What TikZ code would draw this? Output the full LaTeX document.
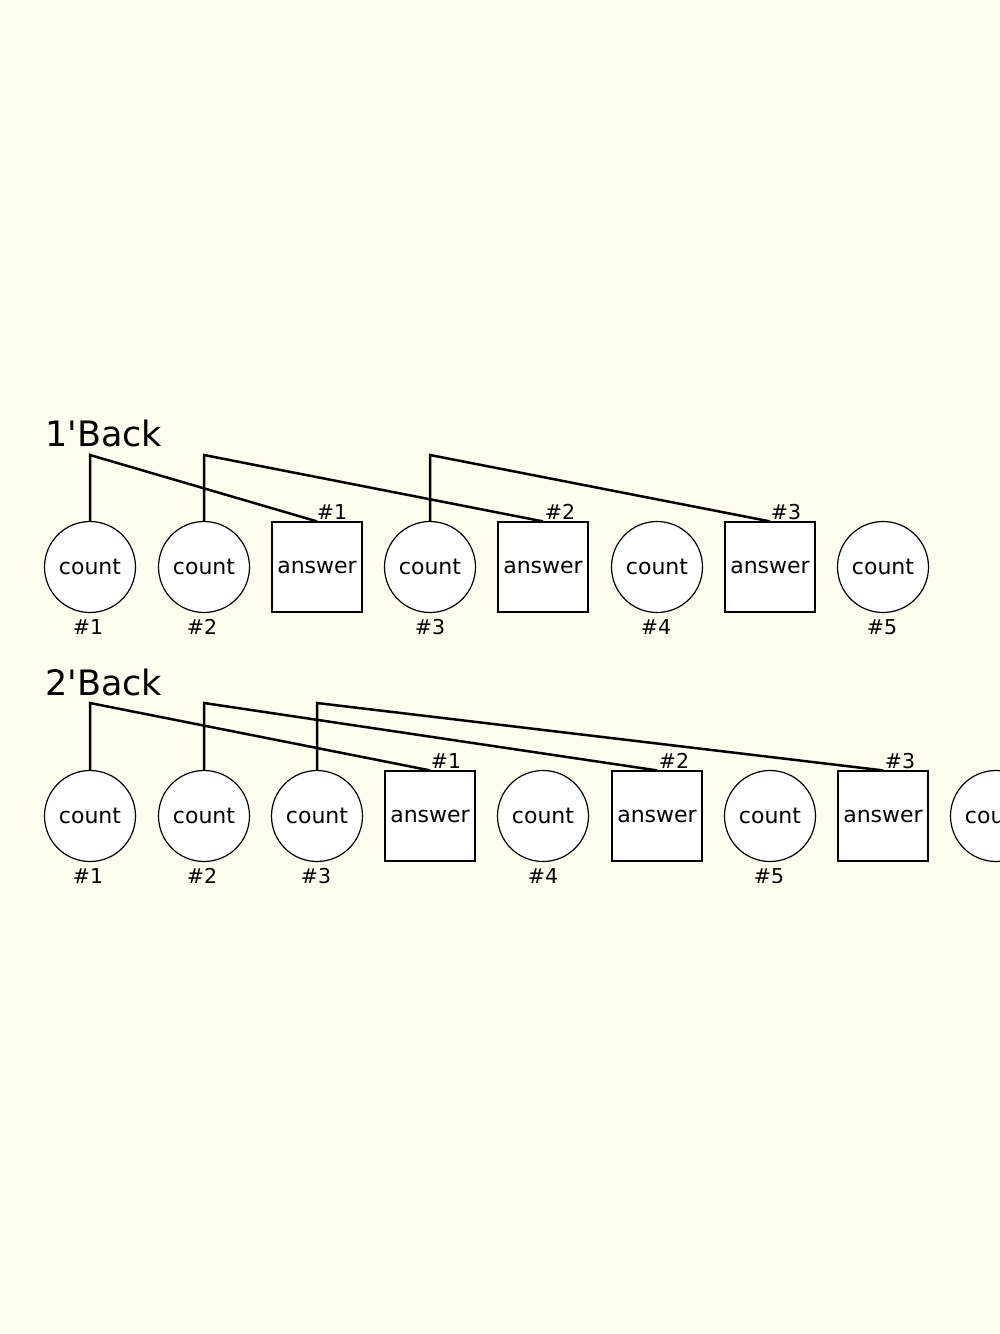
\documentclass[tikz,border=0pt]{standalone}
\usepackage{fontspec}
\setmainfont{DejaVu Sans}
\newfontfamily\ttlfont{DejaVu Sans}
\definecolor{bgcol}{HTML}{FFFDF0}
\begin{document}
\begin{tikzpicture}[x=1pt,y=-1pt,
  cnt/.style={circle,draw,line width=1.2pt,fill=white,minimum size=91pt,inner sep=0pt,font=\fontsize{22}{24}\selectfont},
  ans/.style={rectangle,draw,line width=1.2pt,fill=white,minimum size=90pt,inner sep=0pt,font=\fontsize{22}{24}\selectfont},
  num/.style={anchor=base,inner sep=0pt,font=\fontsize{20.5}{22}\selectfont},
  ttl/.style={anchor=base west,inner sep=0pt,font=\ttlfont\fontsize{35}{40}\selectfont},
  link/.style={line width=2.5pt,line join=miter}]
\useasboundingbox (0,0) rectangle (1000,1334);
\clip (0,0) rectangle (1000,1334);
\fill[bgcol] (0,0) rectangle (1000,1334);

% Row 1
\node[ttl] (t1) at (45,446) {1'Back};
\node[cnt] (a1) at (90,567) {count};
\node[cnt] (a2) at (204,567) {count};
\node[ans] (a3) at (317,567) {answer};
\node[cnt] (a4) at (430,567) {count};
\node[ans] (a5) at (543,567) {answer};
\node[cnt] (a6) at (657,567) {count};
\node[ans] (a7) at (770,567) {answer};
\node[cnt] (a8) at (883,567) {count};

\node[num] (la1) at (88,634) {\#1};
\node[num] (la2) at (202,634) {\#2};
\node[num] (la4) at (430,634) {\#3};
\node[num] (la6) at (656,634) {\#4};
\node[num] (la8) at (882,634) {\#5};
\node[num] (ua3) at (332,519) {\#1};
\node[num] (ua5) at (560,519) {\#2};
\node[num] (ua7) at (786,519) {\#3};

\coordinate (k1) at (90,455);
\coordinate (k2) at (204,455);
\coordinate (k4) at (430,455);
\draw[link] (a1.north) -- (k1) -- (a3.north);
\draw[link] (a2.north) -- (k2) -- (a5.north);
\draw[link] (a4.north) -- (k4) -- (a7.north);

% Row 2
\node[ttl] (t2) at (45,695) {2'Back};
\node[cnt] (b1) at (90,816) {count};
\node[cnt] (b2) at (204,816) {count};
\node[cnt] (b3) at (317,816) {count};
\node[ans] (b4) at (430,816) {answer};
\node[cnt] (b5) at (543,816) {count};
\node[ans] (b6) at (657,816) {answer};
\node[cnt] (b7) at (770,816) {count};
\node[ans] (b8) at (883,816) {answer};
\node[cnt] (b9) at (996,816) {count};

\node[num] (lb1) at (88,883) {\#1};
\node[num] (lb2) at (202,883) {\#2};
\node[num] (lb3) at (316,883) {\#3};
\node[num] (lb5) at (543,883) {\#4};
\node[num] (lb7) at (769,883) {\#5};
\node[num] (ub4) at (446,768) {\#1};
\node[num] (ub6) at (674,768) {\#2};
\node[num] (ub8) at (900,768) {\#3};

\coordinate (m1) at (90,703);
\coordinate (m2) at (204,703);
\coordinate (m3) at (317,703);
\draw[link] (b1.north) -- (m1) -- (b4.north);
\draw[link] (b2.north) -- (m2) -- (b6.north);
\draw[link] (b3.north) -- (m3) -- (b8.north);
\end{tikzpicture}
\end{document}
